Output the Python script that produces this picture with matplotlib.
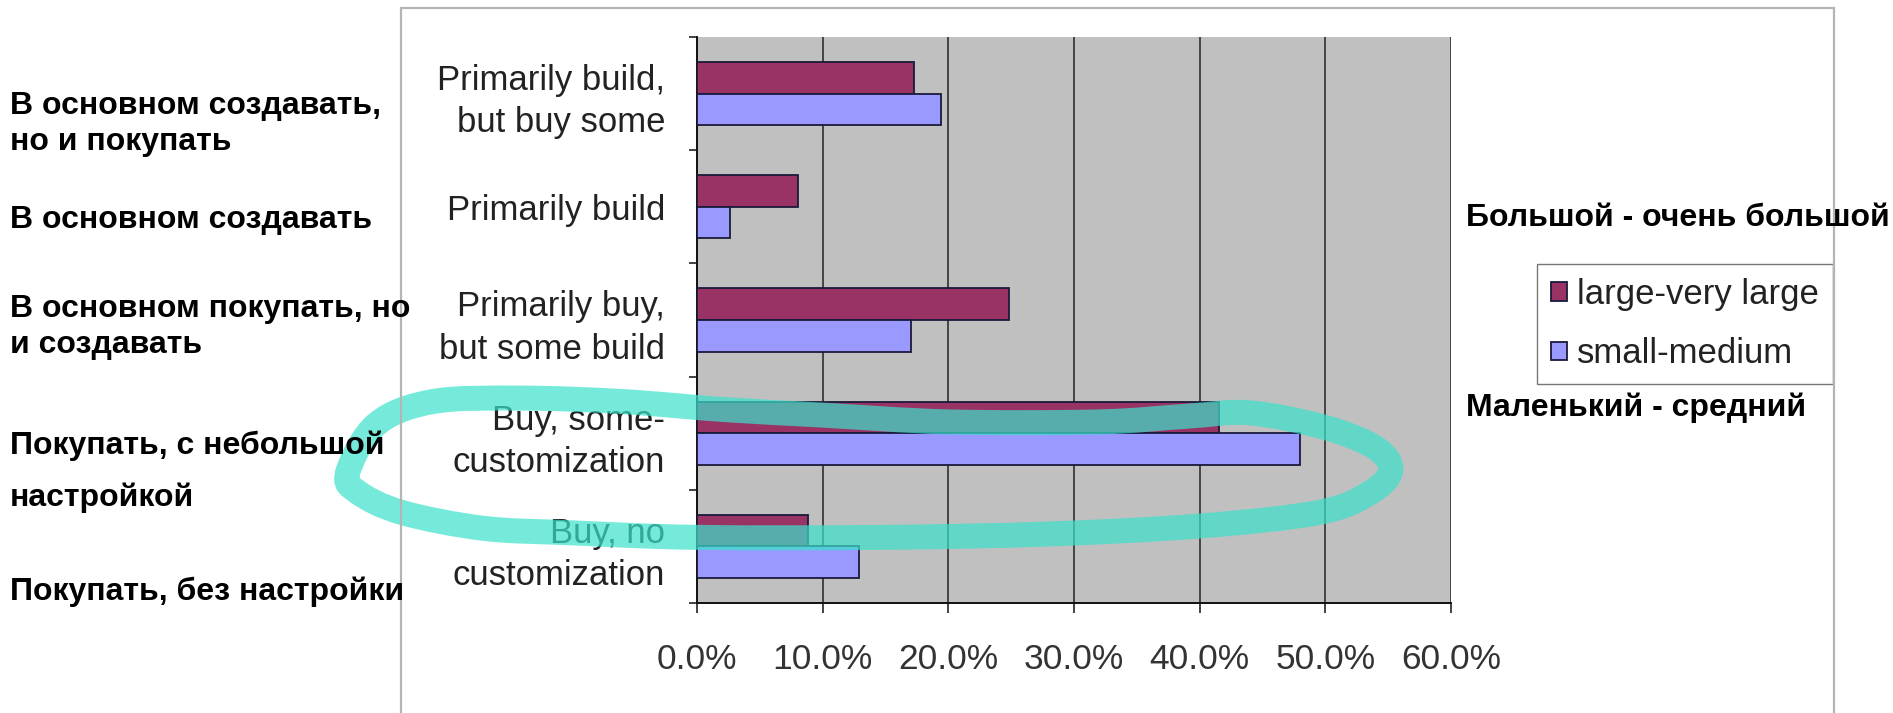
import matplotlib
matplotlib.use("Agg")
import matplotlib.pyplot as plt
from matplotlib.path import Path
from matplotlib.patches import PathPatch, Rectangle
from matplotlib.ticker import FixedLocator, NullFormatter
import numpy as np

# ---------------- data ----------------
categories = ["Primarily build,\nbut buy some", "Primarily build",
              "Primarily buy,\nbut some build", "Buy, some-\ncustomization",
              "Buy, no\ncustomization"]
large_very_large = [17.3, 8.0, 24.8, 41.5, 8.8]
small_medium = [19.4, 2.6, 17.0, 48.0, 12.9]
series_names = ["large-very large", "small-medium"]
x_ticks = [0, 10, 20, 30, 40, 50, 60]
x_tick_labels = ["0.0%", "10.0%", "20.0%", "30.0%", "40.0%", "50.0%", "60.0%"]
ru_labels = ["В основном создавать,", "но и покупать", "В основном создавать",
             "В основном покупать, но", "и создавать", "Покупать, с небольшой",
             "настройкой", "Покупать, без настройки"]
ru_series = ["Большой - очень большой", "Маленький - средний"]

# ---------------- layout ----------------
W, H = 1893, 713
fig = plt.figure(figsize=(W / 100, H / 100), dpi=100)
fig.patch.set_facecolor("white")

def fx(px):
    return px / W

def fy(py):
    return 1 - py / H

# outer chart frame
fig.patches.append(Rectangle((fx(401), fy(760)), fx(1834) - fx(401), fy(8) - fy(760),
                             transform=fig.transFigure, fill=False,
                             edgecolor="#b4b4b4", linewidth=1.6, zorder=0))

ax = fig.add_axes([fx(697), fy(603), fx(1451) - fx(697), fy(37) - fy(603)])
ax.set_facecolor("#c0c0c0")
ax.set_axisbelow(True)

MAROON = "#993366"
LAVENDER = "#9999ff"
EDGE = "#1a1a3a"
bh = 0.28
y = np.arange(len(categories))
ax.barh(y - bh / 2, large_very_large, height=bh, color=MAROON, edgecolor=EDGE,
        linewidth=1.3, label=series_names[0], zorder=3)
ax.barh(y + bh / 2, small_medium, height=bh, color=LAVENDER, edgecolor=EDGE,
        linewidth=1.3, label=series_names[1], zorder=3)

ax.set_xlim(0, 60)
ax.set_ylim(len(categories) - 0.5, -0.5)
ax.set_xticks(x_ticks)
ax.set_xticklabels(x_tick_labels)
ax.xaxis.grid(True, color="#3a3a3a", linewidth=1.3)
ax.set_yticks(y)
ax.set_yticklabels(categories, linespacing=1.35)
ax.yaxis.set_minor_locator(FixedLocator(np.arange(-0.5, len(categories), 1.0)))
ax.yaxis.set_minor_formatter(NullFormatter())

FONT = "Liberation Sans"
ax.tick_params(axis="y", which="major", length=0, pad=23, labelsize=25,
               labelcolor="#222222")
ax.tick_params(axis="y", which="minor", length=6, width=1.2, color="#222222")
ax.tick_params(axis="x", which="major", length=7, width=1.2, pad=22,
               labelsize=25.5, labelcolor="#333333", color="#222222")
for lab in ax.get_xticklabels() + ax.get_yticklabels():
    lab.set_fontfamily(FONT)

for s in ["top", "right"]:
    ax.spines[s].set_visible(False)
for s in ["left", "bottom"]:
    ax.spines[s].set_color("#111111")
    ax.spines[s].set_linewidth(1.4)

leg = ax.legend(loc="upper left", bbox_to_anchor=(fx(1537), fy(264)),
                bbox_transform=fig.transFigure, prop={"family": FONT, "size": 25},
                frameon=True, fancybox=False, edgecolor="#555555",
                handlelength=0.45, handleheight=0.45, handletextpad=0.3,
                borderpad=0.4, labelspacing=0.76, borderaxespad=0)
leg.get_frame().set_linewidth(1.0)
for t in leg.get_texts():
    t.set_color("#222222")

# hand-drawn highlight around "Buy, some-customization"
loop = [(-27.8, 3.35), (-25.5, 2.92), (-21, 2.72), (-14, 2.69), (-6, 2.72),
        (2, 2.79), (10, 2.84), (20, 2.90), (32, 2.90), (39, 2.85), (44, 2.82),
        (50, 2.95), (54, 3.13), (55.2, 3.33), (53.5, 3.53), (49.5, 3.70),
        (40, 3.82), (28, 3.89), (15, 3.92), (0, 3.92), (-10, 3.88),
        (-17, 3.84), (-23.5, 3.70), (-27, 3.52)]
pts = np.array(loop)
n = len(pts)
verts = [tuple(pts[0])]
codes = [Path.MOVETO]
for i in range(n):
    p0, p1, p2, p3 = pts[i - 1], pts[i], pts[(i + 1) % n], pts[(i + 2) % n]
    c1 = p1 + (p2 - p0) / 6
    c2 = p2 - (p3 - p1) / 6
    verts += [tuple(c1), tuple(c2), tuple(p2)]
    codes += [Path.CURVE4] * 3
hl = PathPatch(Path(verts, codes), fill=False, edgecolor=(58 / 255, 226 / 255, 203 / 255),
               alpha=0.7, linewidth=18, capstyle="round", joinstyle="round",
               clip_on=False, zorder=6)
ax.add_patch(hl)

# Russian overlay texts
left_y = [106, 142, 220, 309, 345, 446, 498, 592]
for txt, py in zip(ru_labels, left_y):
    fig.text(fx(10), fy(py), txt, ha="left", va="center", fontsize=23,
             fontweight="bold", family=FONT, color="black")
fig.text(fx(1466), fy(218), ru_series[0], ha="left", va="center", fontsize=23,
         fontweight="bold", family=FONT, color="black")
fig.text(fx(1466), fy(408), ru_series[1], ha="left", va="center", fontsize=23,
         fontweight="bold", family=FONT, color="black")

fig.savefig("out.png", dpi=100, facecolor="white")
